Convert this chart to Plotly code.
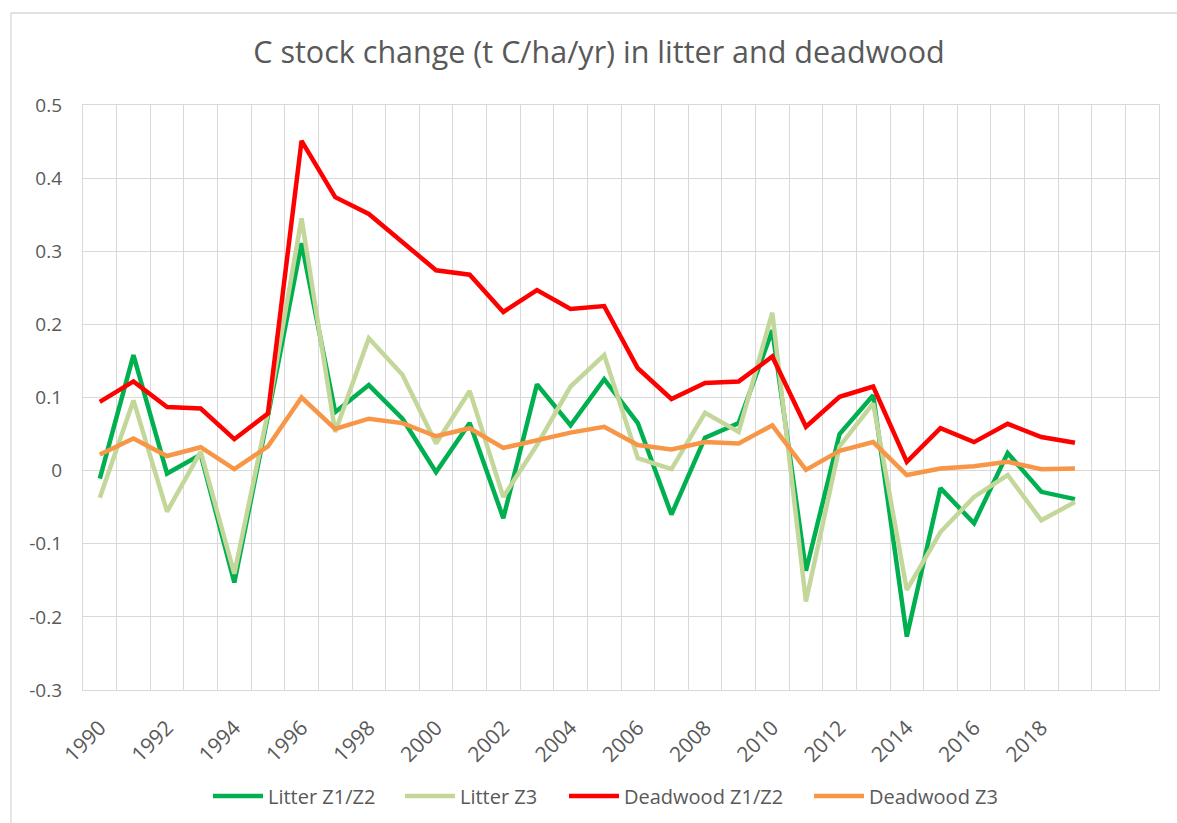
import plotly.graph_objects as go

# Years with data, plus two empty category slots at the end of the axis
years = list(range(1990, 2020))
extra_slots = [2020, 2021]

litter_z1z2 = [-0.011, 0.158, -0.004, 0.022, -0.153, 0.075, 0.311, 0.080, 0.117, 0.071,
               -0.002, 0.065, -0.065, 0.118, 0.062, 0.125, 0.065, -0.060, 0.045, 0.065,
               0.192, -0.137, 0.050, 0.103, -0.227, -0.024, -0.072, 0.024, -0.029, -0.039]
litter_z3 = [-0.037, 0.096, -0.056, 0.026, -0.141, 0.080, 0.345, 0.053, 0.181, 0.131,
             0.037, 0.109, -0.036, 0.035, 0.115, 0.158, 0.017, 0.002, 0.079, 0.053,
             0.216, -0.179, 0.033, 0.092, -0.163, -0.084, -0.036, -0.006, -0.068, -0.043]
deadwood_z1z2 = [0.094, 0.122, 0.087, 0.085, 0.043, 0.078, 0.451, 0.374, 0.351, 0.313,
                 0.274, 0.268, 0.217, 0.247, 0.221, 0.225, 0.140, 0.098, 0.120, 0.122,
                 0.156, 0.060, 0.101, 0.115, 0.012, 0.058, 0.039, 0.064, 0.046, 0.038]
deadwood_z3 = [0.022, 0.044, 0.020, 0.032, 0.002, 0.033, 0.100, 0.057, 0.071, 0.065,
               0.047, 0.058, 0.031, 0.042, 0.052, 0.060, 0.035, 0.029, 0.039, 0.037,
               0.062, 0.001, 0.027, 0.039, -0.006, 0.003, 0.006, 0.012, 0.002, 0.003]

series_names = ["Litter Z1/Z2", "Litter Z3", "Deadwood Z1/Z2", "Deadwood Z3"]
series_values = [litter_z1z2, litter_z3, deadwood_z1z2, deadwood_z3]
series_colors = ["#00B050", "#C4D79B", "#FF0000", "#F79646"]

y_ticks = [0.5, 0.4, 0.3, 0.2, 0.1, 0, -0.1, -0.2, -0.3]
y_tick_text = ["0.5", "0.4", "0.3", "0.2", "0.1", "0", "-0.1", "-0.2", "-0.3"]
x_label_years = years[::2]

all_slots = years + extra_slots
boundaries = [all_slots[0] - 0.5 + i for i in range(len(all_slots) + 1)]

FONT = "Open Sans"
TEXT = "#595959"
GRID = "#D9D9D9"

W, H = 1177, 823
L, R, T, B = 83, 18, 105, 133

# Left edge (px) of each legend entry along the bottom row
legend_left_px = [208, 400, 564, 809]
legend_ids = ["legend", "legend2", "legend3", "legend4"]

fig = go.Figure()
for name, vals, color, lid in zip(series_names, series_values, series_colors, legend_ids):
    fig.add_trace(go.Scatter(
        x=years, y=vals, mode="lines", name=name, legend=lid,
        line=dict(color=color, width=4.5, shape="linear"),
    ))

legend_layout = {}
for lid, left in zip(legend_ids, legend_left_px):
    legend_layout[lid] = dict(
        orientation="h", x=left / W, xanchor="left", xref="container",
        y=1 - 796 / H, yanchor="middle", yref="container",
        font=dict(family=FONT, size=20, color=TEXT),
        itemwidth=50, bgcolor="rgba(0,0,0,0)",
    )

fig.update_layout(
    width=W, height=H,
    margin=dict(l=L, r=R, t=T, b=B, autoexpand=False),
    paper_bgcolor="white", plot_bgcolor="white",
    font=dict(family=FONT, color=TEXT, size=19),
    title=dict(
        text="C stock change (t C/ha/yr) in litter and deadwood",
        x=599 / W, xanchor="center", xref="container",
        y=1 - 52 / H, yanchor="middle", yref="container",
        font=dict(family=FONT, size=30.5, color=TEXT),
    ),
    showlegend=True,
    xaxis=dict(
        range=[boundaries[0], boundaries[-1]],
        tickmode="array", tickvals=x_label_years, ticktext=[str(v) for v in x_label_years],
        tickangle=-45, showgrid=False, zeroline=False, automargin=False,
        showline=True, linecolor=GRID, linewidth=1.3, mirror=True,
        ticks="", ticklabelstandoff=16,
        tickfont=dict(family=FONT, size=21, color=TEXT),
        minor=dict(tickmode="array", tickvals=boundaries, showgrid=True,
                   gridcolor=GRID, gridwidth=1.3, ticks=""),
    ),
    yaxis=dict(
        range=[-0.3, 0.5], automargin=False,
        tickmode="array", tickvals=y_ticks, ticktext=y_tick_text,
        showgrid=True, gridcolor=GRID, gridwidth=1.3, zeroline=False,
        showline=True, linecolor=GRID, linewidth=1.3, mirror=True,
        ticks="", ticklabelstandoff=16,
        tickfont=dict(family=FONT, size=19, color=TEXT),
    ),
    **legend_layout,
)

# Chart-area border (top and left edges visible within the page)
fig.add_shape(
    type="rect", xref="paper", yref="paper",
    x0=(11 - L) / (W - L - R), x1=(W + 30 - L) / (W - L - R),
    y0=-(B + 30) / (H - T - B), y1=(H - B - 13) / (H - T - B),
    line=dict(color=GRID, width=1.3), fillcolor="rgba(0,0,0,0)", layer="below",
)

fig.write_html("out.html")
